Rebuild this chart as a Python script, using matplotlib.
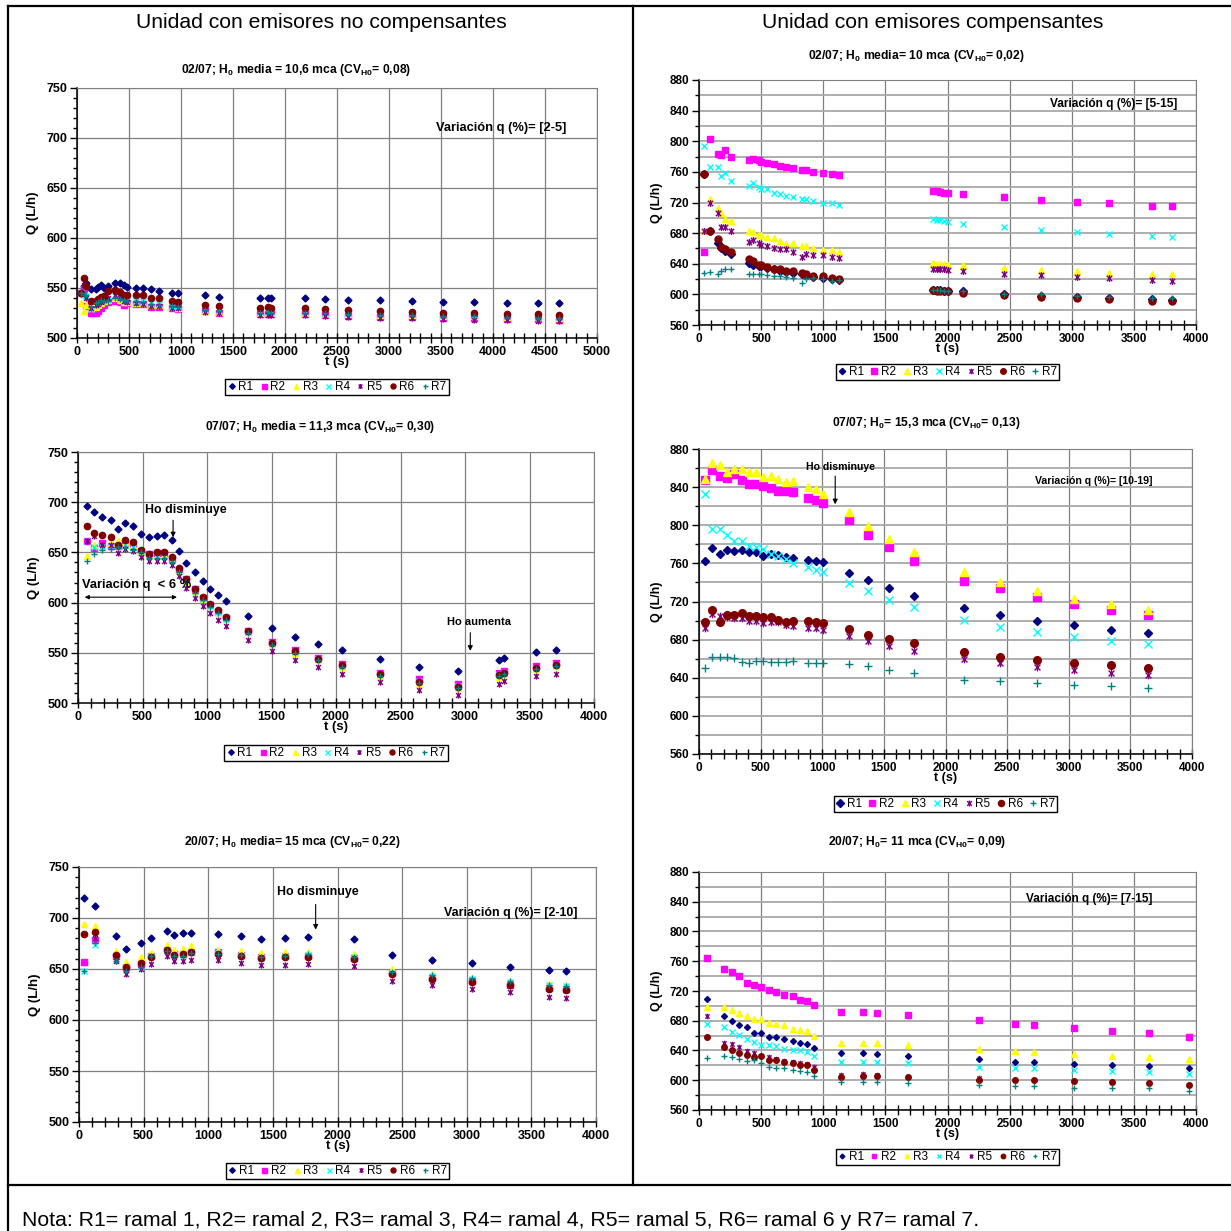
import matplotlib
matplotlib.use('Agg')
import matplotlib.pyplot as plt
from matplotlib.path import Path
from matplotlib.lines import Line2D
from matplotlib.ticker import MultipleLocator

plt.rcParams['font.family'] = ['Liberation Sans', 'DejaVu Sans']
plt.rcParams['font.weight'] = 'bold'
plt.rcParams['axes.labelweight'] = 'bold'
plt.rcParams['mathtext.fontset'] = 'custom'
plt.rcParams['mathtext.rm'] = 'Liberation Sans:bold'
plt.rcParams['mathtext.it'] = 'Liberation Sans:bold'
plt.rcParams['mathtext.bf'] = 'Liberation Sans:bold'
plt.rcParams['mathtext.default'] = 'rm'

# ---- data (t in s, Q in L/h) ----
names = ['R1', 'R2', 'R3', 'R4', 'R5', 'R6', 'R7']

# no compensantes, 02/07
t1 = [40, 65, 90, 130, 182, 205, 229, 262, 300, 362, 410, 455, 485, 565, 635, 715, 790, 910, 970, 1227,
      1368, 1760, 1840, 1870, 2195, 2380, 2610, 2915, 3220, 3520, 3820, 4135, 4430, 4630]
p1_r1 = [545, 552, 555, 549, 549, 551, 553, 550, 552, 555, 555, 553, 551, 550, 550, 549, 547, 545, 545, 543,
         541, 540, 540, 540, 540, 539, 538, 538, 537, 536, 536, 535, 535, 535]
p1_r2 = [545, 549, 532, 525, 525, 527, 530, 533, 536, 537, 536, 533, 535, 534, 534, 531, 531, 530, 529, 527,
         525, 524, 524, 524, 524, 523, 522, 521, 521, 520, 520, 519, 519, 518]
p1_r3 = [535, 527, 533, 530, 531, 533, 535, 537, 538, 540, 538, 536, 536, 535, 535, 533, 533, 531, 530, 527,
         526, 525, 525, 525, 525, 524, 524, 523, 523, 522, 522, 521, 521, 520]
p1_r4 = [545, 543, 542, 529, 533, 535, 537, 538, 538, 542, 540, 537, 538, 537, 537, 535, 534, 532, 532, 529,
         528, 526, 526, 526, 526, 525, 525, 524, 524, 523, 523, 522, 521, 521]
p1_r5 = [545, 553, 540, 530, 533, 534, 536, 538, 540, 543, 540, 537, 536, 535, 534, 532, 532, 530, 530, 526,
         525, 523, 523, 523, 523, 522, 521, 520, 520, 519, 518, 518, 517, 517]
p1_r6 = [545, 560, 552, 537, 537, 539, 541, 542, 547, 548, 546, 543, 543, 543, 543, 540, 540, 537, 536, 533,
         532, 530, 531, 530, 530, 529, 528, 527, 526, 525, 525, 524, 524, 523]
p1_r7 = [545, 543, 543, 531, 535, 536, 538, 537, 537, 540, 539, 538, 537, 537, 536, 534, 533, 532, 531, 528,
         527, 525, 526, 525, 525, 525, 524, 523, 523, 522, 522, 521, 520, 520]

# compensantes, 02/07
t2 = [37, 86, 151, 179, 210, 256, 404, 432, 481, 503, 549, 601, 651, 700, 756, 830, 864, 916, 999, 1070,
      1123, 1887, 1912, 1943, 1974, 2008, 2128, 2458, 2754, 3044, 3303, 3642, 3803]
p2_r1 = [757, 683, 667, 661, 657, 653, 641, 638, 637, 637, 635, 633, 631, 629, 628, 626, 625, 623, 622, 620,
         619, 606, 606, 606, 605, 605, 604, 600, 598, 597, 595, 594, 593]
p2_r2 = [656, 803, 783, 782, 789, 780, 775, 777, 775, 773, 772, 770, 768, 766, 765, 762, 762, 760, 759, 757,
         756, 735, 735, 734, 733, 732, 731, 727, 723, 721, 719, 716, 715]
p2_r3 = [683, 725, 713, 706, 698, 696, 683, 682, 678, 678, 675, 674, 670, 666, 667, 663, 663, 661, 658, 658,
         656, 641, 640, 640, 640, 639, 638, 634, 632, 630, 628, 626, 626]
p2_r4 = [794, 766, 766, 755, 758, 748, 742, 745, 740, 738, 737, 732, 731, 729, 727, 724, 724, 722, 720, 719,
         717, 698, 697, 697, 696, 695, 692, 688, 684, 681, 679, 676, 675]
p2_r5 = [683, 720, 706, 688, 688, 683, 668, 671, 667, 665, 663, 661, 659, 659, 655, 649, 653, 651, 651, 649,
         648, 633, 633, 633, 633, 632, 631, 627, 625, 623, 621, 619, 618]
p2_r6 = [757, 683, 672, 662, 659, 655, 646, 643, 638, 638, 636, 633, 633, 631, 630, 628, 626, 624, 624, 622,
         620, 606, 605, 605, 605, 605, 602, 599, 597, 595, 594, 592, 591]
p2_r7 = [628, 629, 626, 630, 633, 633, 626, 627, 627, 627, 625, 624, 624, 623, 622, 615, 620, 621, 620, 618,
         619, 606, 606, 606, 605, 605, 605, 601, 600, 598, 597, 595, 595]

# no compensantes, 07/07
t3 = [73, 122, 183, 253, 311, 368, 423, 487, 548, 609, 664, 728, 785, 840, 907, 968, 1026, 1087, 1151, 1321,
      1501, 1680, 1863, 2046, 2344, 2645, 2944, 3260, 3306, 3553, 3705]
p3_r1 = [696, 690, 685, 682, 673, 679, 676, 668, 665, 666, 667, 662, 651, 639, 630, 622, 614, 608, 602, 587,
         575, 566, 559, 553, 544, 536, 532, 543, 545, 551, 553]
p3_r2 = [661, 654, 659, 656, 656, 659, 656, 651, 648, 649, 649, 643, 632, 624, 614, 605, 598, 591, 585, 572,
         561, 553, 545, 539, 530, 524, 519, 530, 532, 537, 540]
p3_r3 = [646, 657, 655, 659, 661, 660, 657, 651, 647, 646, 647, 642, 631, 622, 612, 604, 597, 591, 584, 571,
         559, 550, 543, 536, 527, 519, 515, 526, 529, 534, 537]
p3_r4 = [661, 655, 656, 656, 656, 658, 655, 650, 646, 646, 646, 642, 631, 623, 612, 604, 597, 591, 584, 571,
         560, 551, 544, 537, 529, 522, 517, 528, 530, 535, 538]
p3_r5 = [661, 666, 657, 657, 649, 653, 651, 645, 641, 641, 641, 637, 626, 615, 605, 597, 590, 583, 577, 563,
         552, 543, 536, 529, 521, 513, 508, 519, 522, 527, 529]
p3_r6 = [676, 669, 667, 665, 657, 662, 660, 652, 648, 650, 650, 645, 634, 624, 614, 606, 599, 593, 586, 572,
         560, 552, 544, 538, 529, 521, 516, 528, 530, 535, 538]
p3_r7 = [641, 648, 652, 653, 655, 654, 652, 650, 644, 644, 644, 640, 630, 621, 610, 603, 596, 590, 583, 570,
         558, 550, 543, 536, 527, 520, 515, 527, 529, 534, 537]

# compensantes, 07/07
t4 = [50, 109, 168, 230, 285, 348, 403, 459, 521, 583, 645, 708, 760, 887, 946, 1005, 1213, 1372, 1545, 1747,
      2150, 2445, 2746, 3044, 3345, 3643]
p4_r1 = [762, 776, 770, 774, 773, 774, 772, 772, 768, 770, 769, 767, 766, 764, 763, 761, 750, 743, 734, 726,
         713, 706, 700, 695, 690, 687]
p4_r2 = [848, 858, 852, 850, 854, 847, 843, 843, 841, 839, 836, 836, 835, 829, 826, 823, 805, 790, 777, 763,
         742, 734, 725, 717, 711, 706]
p4_r3 = [849, 865, 863, 856, 859, 859, 856, 856, 851, 852, 849, 845, 846, 840, 838, 833, 814, 799, 786, 772,
         751, 740, 731, 723, 717, 711]
p4_r4 = [833, 796, 796, 790, 783, 783, 778, 777, 775, 770, 768, 765, 760, 756, 753, 751, 739, 731, 722, 714,
         701, 693, 688, 683, 679, 675]
p4_r5 = [692, 707, 705, 704, 703, 703, 700, 700, 697, 698, 698, 695, 694, 692, 692, 690, 684, 679, 673, 668,
         660, 655, 651, 648, 645, 643]
p4_r6 = [699, 711, 699, 706, 706, 708, 705, 705, 704, 704, 701, 699, 700, 700, 698, 697, 691, 685, 681, 676,
         667, 662, 659, 655, 653, 650]
p4_r7 = [650, 662, 662, 662, 661, 657, 656, 658, 658, 657, 657, 657, 658, 656, 656, 655, 654, 652, 648, 645,
         638, 637, 635, 632, 631, 629]

# no compensantes, 20/07
t5 = [37, 122, 287, 363, 476, 555, 683, 735, 802, 863, 1077, 1254, 1410, 1593, 1773, 2127, 2423, 2731, 3042,
      3338, 3637, 3768]
p5_r1 = [720, 712, 682, 670, 675, 680, 687, 683, 685, 685, 684, 682, 679, 680, 681, 679, 664, 659, 656, 652, 649, 648]
p5_r2 = [657, 678, 663, 652, 655, 663, 669, 665, 665, 667, 667, 664, 662, 663, 663, 661, 646, 641, 638, 634, 631, 630]
p5_r3 = [694, 692, 668, 657, 662, 666, 674, 669, 670, 673, 669, 668, 666, 667, 667, 665, 650, 645, 641, 638, 635, 634]
p5_r4 = [648, 674, 659, 649, 653, 663, 669, 664, 664, 667, 666, 663, 661, 663, 664, 662, 646, 643, 640, 637, 634, 633]
p5_r5 = [684, 680, 658, 645, 650, 655, 663, 658, 658, 659, 659, 656, 654, 654, 655, 653, 638, 634, 630, 627, 623, 622]
p5_r6 = [684, 686, 664, 652, 656, 662, 669, 664, 665, 667, 665, 663, 661, 662, 662, 660, 645, 640, 637, 634, 630, 629]
p5_r7 = [648, 675, 658, 648, 652, 663, 668, 663, 663, 666, 665, 664, 662, 663, 665, 662, 647, 644, 641, 638, 634, 633]

# compensantes, 20/07
t6 = [65, 198, 262, 321, 383, 444, 503, 565, 623, 685, 753, 809, 867, 929, 1139, 1321, 1432, 1679, 2250, 2540,
      2694, 3019, 3321, 3623, 3941]
p6_r1 = [709, 686, 679, 674, 671, 663, 664, 658, 658, 656, 653, 650, 649, 643, 637, 636, 635, 633, 628, 625,
         624, 622, 621, 619, 616]
p6_r2 = [765, 749, 745, 740, 731, 728, 726, 721, 718, 715, 713, 708, 707, 701, 692, 692, 691, 688, 681, 675,
         674, 670, 666, 663, 658]
p6_r3 = [698, 698, 694, 690, 686, 683, 682, 677, 676, 674, 669, 667, 666, 660, 650, 650, 650, 648, 642, 639,
         638, 635, 633, 631, 628]
p6_r4 = [675, 672, 665, 661, 656, 652, 648, 647, 646, 642, 640, 640, 638, 633, 624, 625, 624, 623, 618, 616,
         616, 614, 612, 611, 608]
p6_r5 = [686, 650, 649, 645, 639, 636, 632, 631, 629, 626, 625, 623, 622, 618, 607, 608, 607, 605, 603, 601,
         601, 599, 598, 596, 594]
p6_r6 = [658, 645, 640, 637, 634, 631, 632, 627, 627, 625, 623, 621, 620, 614, 605, 606, 606, 605, 601, 600,
         600, 599, 597, 596, 594]
p6_r7 = [630, 632, 631, 628, 626, 627, 623, 618, 616, 616, 614, 612, 611, 606, 597, 597, 597, 596, 594, 592,
         592, 590, 589, 589, 586]

# ---- styles ----
colors = ['#000080', '#FF00FF', '#FFFF00', '#00FFFF', '#800080', '#800000', '#008080']
star = Path([(-1, -1), (1, 1), (-1, 1), (1, -1), (0, -1.3), (0, 1.3)],
            [Path.MOVETO, Path.LINETO, Path.MOVETO, Path.LINETO, Path.MOVETO, Path.LINETO])
markers = ['D', 's', '^', 'x', star, 'o', '+']
filled = [True, True, True, False, False, True, False]

W = 1231.0
fig = plt.figure(figsize=(12.31, 12.31), dpi=100)
fig.patch.set_facecolor('white')


def px(x, y):
    return x / W, 1 - y / W


def rect(l, r, t, b):
    return [l / W, 1 - b / W, (r - l) / W, (b - t) / W]


def panel(box, t, series, xmax, ylim, ystep, yminor, ms, leg_y, right=False):
    ax = fig.add_axes(box)
    for name, vals, c, m, f in zip(names, series, colors, markers, filled):
        size = ms - 1 if m == 'D' else ms
        if f:
            ax.plot(t, vals, ls='none', marker=m, mfc=c, mec=c, ms=size, label=name, zorder=3)
        else:
            ax.plot(t, vals, ls='none', marker=m, mfc='none', mec=c, ms=size, mew=1.0,
                    label=name, zorder=3)
    ax.set_xlim(0, xmax)
    ax.set_ylim(*ylim)
    ax.xaxis.set_major_locator(MultipleLocator(500))
    ax.xaxis.set_minor_locator(MultipleLocator(100))
    ax.yaxis.set_major_locator(MultipleLocator(ystep))
    ax.yaxis.set_minor_locator(MultipleLocator(yminor))
    ax.grid(axis='x', which='major', color='#808080', lw=0.9)
    if right:
        ax.grid(axis='y', which='both', color='#a8a8a8', lw=1.3)
    else:
        ax.grid(axis='y', which='major', color='#808080', lw=0.9)
    ax.set_axisbelow(True)
    for s in ['top', 'right']:
        ax.spines[s].set_color('#808080')
    for s in ['left', 'bottom']:
        ax.spines[s].set_color('black')
        ax.spines[s].set_linewidth(1.1)
    fs = 8.5 if right else 9
    ax.tick_params(axis='y', which='major', direction='out', length=5, width=1, labelsize=fs, pad=2)
    ax.tick_params(axis='y', which='minor', direction='out', length=3, width=1)
    ax.tick_params(axis='x', which='both', direction='inout', length=7, width=1, labelsize=fs, pad=2)
    for lbl in ax.get_xticklabels() + ax.get_yticklabels():
        lbl.set_fontweight('bold')
    ax.set_xlabel('t (s)', fontsize=fs + 0.5, fontweight='bold', labelpad=-1)
    ax.set_ylabel('Q (L/h)', fontsize=fs + 0.5, fontweight='bold', labelpad=5)
    ax.legend(loc='center', bbox_to_anchor=(0.5, leg_y), ncol=7,
              prop={'size': 8.5, 'weight': 'normal'}, frameon=True, fancybox=False,
              edgecolor='black', framealpha=1, handlelength=0.7, handletextpad=0.2,
              columnspacing=0.55, borderpad=0.2, markerscale=0.8)
    return ax


arrow = dict(arrowstyle='-|>', color='black', lw=0.8, mutation_scale=7, shrinkA=0, shrinkB=0)

# panel 1
ax1 = panel(rect(77, 597, 88, 338), t1, [p1_r1, p1_r2, p1_r3, p1_r4, p1_r5, p1_r6, p1_r7],
            5000, (500, 750), 50, 10, 4.5, -0.196)
ax1.text(4080, 710, 'Variación q (%)= [2-5]', ha='center', va='center', fontsize=9.3)

# panel 2
ax2 = panel(rect(699, 1196, 80, 325), t2, [p2_r1, p2_r2, p2_r3, p2_r4, p2_r5, p2_r6, p2_r7],
            4000, (560, 880), 40, 20, 5, -0.192, right=True)
ax2.text(3337, 848.7, 'Variación q (%)= [5-15]', ha='center', va='center', fontsize=8.6)

# panel 3
ax3 = panel(rect(78, 594, 452, 703), t3, [p3_r1, p3_r2, p3_r3, p3_r4, p3_r5, p3_r6, p3_r7],
            4000, (500, 750), 50, 10, 4.5, -0.199)
ax3.text(836, 692, 'Ho disminuye', ha='center', va='center', fontsize=8.9)
ax3.annotate('', xy=(737, 665), xytext=(737, 682), arrowprops=arrow)
ax3.text(452, 617.7, 'Variación q  < 6 %', ha='center', va='center', fontsize=9.3)
ax3.annotate('', xy=(52, 605.4), xytext=(767, 605.4),
             arrowprops=dict(arrowstyle='<|-|>', color='black', lw=0.8, mutation_scale=6,
                             shrinkA=0, shrinkB=0))
ax3.text(3111, 580.6, 'Ho aumenta', ha='center', va='center', fontsize=8)
ax3.annotate('', xy=(3041, 552), xytext=(3041, 570), arrowprops=arrow)

# panel 4
ax4 = panel(rect(699, 1192, 449, 754), t4, [p4_r1, p4_r2, p4_r3, p4_r4, p4_r5, p4_r6, p4_r7],
            4000, (560, 880), 40, 20, 5.5, -0.164, right=True)
ax4.text(1151, 860.7, 'Ho disminuye', ha='center', va='center', fontsize=7.6)
ax4.annotate('', xy=(1105, 822), xytext=(1105, 851.6), arrowprops=arrow)
ax4.text(3206, 846.7, 'Variación q (%)= [10-19]', ha='center', va='center', fontsize=7.6)

# panel 5
ax5 = panel(rect(79, 596, 867, 1122), t5, [p5_r1, p5_r2, p5_r3, p5_r4, p5_r5, p5_r6, p5_r7],
            4000, (500, 750), 50, 10, 4.5, -0.192)
ax5.text(1847, 725.3, 'Ho disminuye', ha='center', va='center', fontsize=8.9)
ax5.annotate('', xy=(1831, 688.6), xytext=(1831, 713.3), arrowprops=arrow)
ax5.text(3342, 704.5, 'Variación q (%)= [2-10]', ha='center', va='center', fontsize=8.9)

# panel 6
ax6 = panel(rect(699, 1196, 872, 1110), t6, [p6_r1, p6_r2, p6_r3, p6_r4, p6_r5, p6_r6, p6_r7],
            4000, (560, 880), 40, 20, 4, -0.197, right=True)
ax6.text(3142, 843.6, 'Variación q (%)= [7-15]', ha='center', va='center', fontsize=8.5)

# titles
titles = [
    (296, 70, r'02/07; H$_0$ media = 10,6 mca (CV$_{H0}$= 0,08)'),
    (916, 56, r'02/07; H$_0$ media= 10 mca (CV$_{H0}$= 0,02)'),
    (320, 427, r'07/07; H$_0$ media = 11,3 mca (CV$_{H0}$= 0,30)'),
    (926, 423, r'07/07; H$_0$= 15,3 mca (CV$_{H0}$= 0,13)'),
    (292, 842, r'20/07; H$_0$ media= 15 mca (CV$_{H0}$= 0,22)'),
    (917, 842, r'20/07; H$_0$= 11 mca (CV$_{H0}$= 0,09)'),
]
for x, y, s in titles:
    fx, fy = px(x, y)
    fig.text(fx, fy, s, ha='center', va='center', fontsize=8.7)

fx, fy = px(321, 23)
fig.text(fx, fy, 'Unidad con emisores no compensantes', ha='center', va='center',
         fontsize=15.2, fontweight='normal')
fx, fy = px(933, 23)
fig.text(fx, fy, 'Unidad con emisores compensantes', ha='center', va='center',
         fontsize=15.2, fontweight='normal')
fx, fy = px(22, 1220)
fig.text(fx, fy, 'Nota: R1= ramal 1, R2= ramal 2, R3= ramal 3, R4= ramal 4, R5= ramal 5, '
         'R6= ramal 6 y R7= ramal 7.', ha='left', va='center', fontsize=15.3, fontweight='normal')

# table frame
for (x0, y0, x1, y1) in [(8, 6, 1231, 6), (8, 6, 8, 1231), (633, 6, 633, 1185), (8, 1185, 1231, 1185)]:
    a, b = px(x0, y0)
    c, d = px(x1, y1)
    fig.add_artist(Line2D([a, c], [b, d], transform=fig.transFigure, color='black', lw=1.6))

fig.savefig('out.png', dpi=100, facecolor='white')
